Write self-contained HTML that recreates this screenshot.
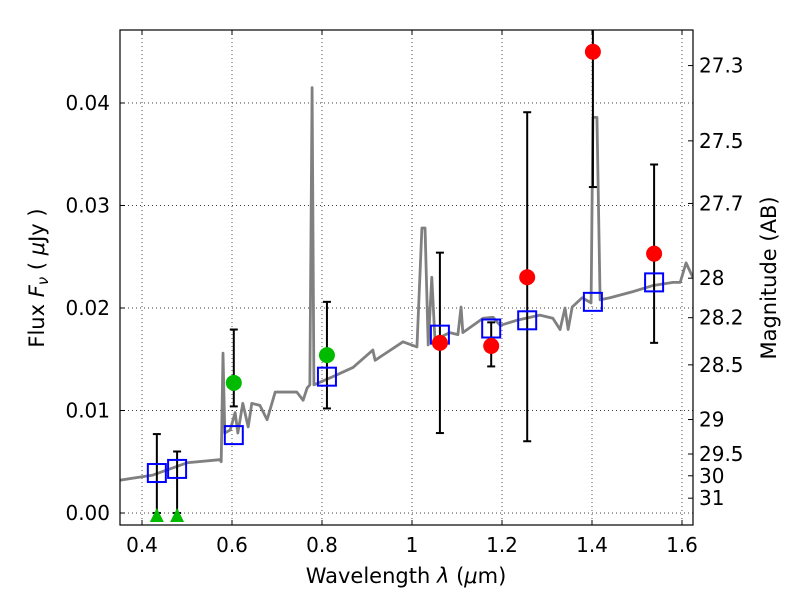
<!DOCTYPE html>
<html><head><meta charset="utf-8"><style>
body{margin:0;background:#fff;}
svg{display:block;font-family:"DejaVu Sans","Liberation Sans",sans-serif;}
</style></head><body>
<svg id="chart" width="800" height="600">
<defs><clipPath id="clip"><rect x="120" y="30" width="573" height="495"/></clipPath></defs>
<rect x="0" y="0" width="800" height="600" fill="#fff"/>
<g id="grid"></g>
<g id="marks" clip-path="url(#clip)"></g>
<rect x="120" y="30" width="573" height="495" fill="none" stroke="#000" stroke-width="1.2"/>
<g id="axes"></g>
<text x="406" y="583" font-size="21" text-anchor="middle">Wavelength  <tspan font-style="italic">λ</tspan> (<tspan font-style="italic">μ</tspan>m)</text>
<text transform="translate(44,278) rotate(-90)" font-size="21" text-anchor="middle">Flux  <tspan font-style="italic">F<tspan font-size="15" dy="4">ν</tspan></tspan><tspan dy="-4">  ( </tspan><tspan font-style="italic">μ</tspan>Jy )</text>
<text transform="translate(776,278) rotate(-90)" font-size="21" text-anchor="middle">Magnitude (AB)</text>
</svg>
<script>
const xTicks=[0.4,0.6,0.8,1.0,1.2,1.4,1.6];
const xTickLabels=["0.4","0.6","0.8","1","1.2","1.4","1.6"];
const yTicks=[0,0.01,0.02,0.03,0.04];
const yTickLabels=["0.00","0.01","0.02","0.03","0.04"];
const magTicks=[27.3,27.5,27.7,28,28.2,28.5,29,29.5,30,31];
const magTickLabels=["27.3","27.5","27.7","28","28.2","28.5","29","29.5","30","31"];
const specLam=[0.351,0.424,0.500,0.573,0.576,0.580,0.584,0.596,0.607,0.613,0.624,0.636,0.644,0.662,0.678,0.696,0.744,0.758,0.767,0.773,0.778,0.782,0.824,0.869,0.913,0.918,0.980,1.011,1.022,1.029,1.036,1.044,1.051,1.084,1.102,1.109,1.113,1.158,1.180,1.196,1.233,1.284,1.313,1.329,1.340,1.347,1.356,1.378,1.398,1.402,1.411,1.418,1.440,1.491,1.536,1.580,1.596,1.609,1.624];
const specFlux=[0.0032,0.0037,0.0049,0.0052,0.0050,0.0156,0.0078,0.0081,0.0098,0.0078,0.0107,0.0084,0.0107,0.0105,0.0091,0.0118,0.0118,0.0110,0.0122,0.0125,0.0415,0.0125,0.0133,0.0142,0.0159,0.0149,0.0167,0.0162,0.0278,0.0278,0.0164,0.0230,0.0169,0.0176,0.0174,0.0201,0.0176,0.0190,0.0191,0.0183,0.0188,0.0193,0.0190,0.0179,0.0200,0.0179,0.0201,0.0210,0.0205,0.0386,0.0386,0.0208,0.0210,0.0216,0.0222,0.0225,0.0225,0.0244,0.0230];
const modelLam=[0.433,0.478,0.604,0.811,1.062,1.176,1.256,1.402,1.538];
const modelFlux=[0.0039,0.0043,0.0076,0.0133,0.0174,0.0180,0.0188,0.0206,0.0225];
const obsLam=[0.433,0.478,0.604,0.811,1.062,1.176,1.256,1.402,1.538];
const obsFlux=[0,0,0.0127,0.0154,0.0166,0.0163,0.0230,0.0450,0.0253];
const obsLow=[0,0,0.0104,0.0102,0.0078,0.0143,0.0070,0.0318,0.0166];
const obsHigh=[0.0077,0.0060,0.0179,0.0206,0.0254,0.0186,0.0391,0.0600,0.0340];
const obsKind=["tri","tri","green","green","red","red","red","red","red"];

const NS="http://www.w3.org/2000/svg";
const X=l=>142+(l-0.4)*450;
const Y=f=>513-f*10250;
const magToFlux=m=>Math.pow(10,(23.9-m)/2.5);
function mk(tag,attrs,parent){const e=document.createElementNS(NS,tag);for(const k in attrs)e.setAttribute(k,attrs[k]);parent.appendChild(e);return e;}
const grid=document.getElementById('grid'),marks=document.getElementById('marks'),axes=document.getElementById('axes');

xTicks.forEach((t,i)=>{const x=X(t);
 const g=mk('line',{x1:x,x2:x,y1:30,y2:525,stroke:'#000','stroke-width':0.7,'stroke-dasharray':'1,3'},grid);
 
 
 mk('line',{x1:x,x2:x,y1:525,y2:520,stroke:'#000'},axes);
 mk('line',{x1:x,x2:x,y1:30,y2:35,stroke:'#000'},axes);
 const tx=mk('text',{x:x,y:552,'font-size':20,'text-anchor':'middle'},axes);tx.textContent=xTickLabels[i];
 
 
});
yTicks.forEach((t,i)=>{const y=Y(t);
 const g=mk('line',{x1:120,x2:693,y1:y,y2:y,stroke:'#000','stroke-width':0.7,'stroke-dasharray':'1,3'},grid);
 
 
 mk('line',{x1:120,x2:125,y1:y,y2:y,stroke:'#000'},axes);
 const tx=mk('text',{x:110,y:y+7,'font-size':20,'text-anchor':'end'},axes);tx.textContent=yTickLabels[i];
 
 
});
magTicks.forEach((m,i)=>{const y=Y(magToFlux(m));
 mk('line',{x1:688,x2:693,y1:y,y2:y,stroke:'#000'},axes);
 const tx=mk('text',{x:699,y:y+7,'font-size':20},axes);tx.textContent=magTickLabels[i];
 
 
});

const pl=mk('polyline',{points:specLam.map((l,i)=>X(l)+','+Y(specFlux[i])).join(' '),fill:'none',stroke:'#808080','stroke-width':2.8,'stroke-linejoin':'round'},marks);



obsLam.forEach((l,i)=>{const x=X(l),y1=Y(obsLow[i]),y2=Y(obsHigh[i]);
 const e=mk('g',{},marks);
 
 
 mk('line',{x1:x,x2:x,y1:y1,y2:y2,stroke:'#000','stroke-width':2},e);
 mk('line',{x1:x-4,x2:x+4,y1:y1,y2:y1,stroke:'#000','stroke-width':2},e);
 mk('line',{x1:x-4,x2:x+4,y1:y2,y2:y2,stroke:'#000','stroke-width':2},e);
});
modelLam.forEach((l,i)=>{const x=X(l),y=Y(modelFlux[i]);
 const r=mk('rect',{x:x-9,y:y-9,width:18,height:18,fill:'none',stroke:'#0000ff','stroke-width':2},marks);
 
 
});
obsLam.forEach((l,i)=>{const x=X(l),y=Y(obsFlux[i]);let e;
 if(obsKind[i]==='tri'){e=mk('polygon',{points:`${x-7},${y+9} ${x+7},${y+9} ${x},${y-5}`,fill:'#00bb00'},marks);}
 else e=mk('circle',{cx:x,cy:y,r:8,fill:obsKind[i]==='green'?'#00bb00':'#ff0000'},marks);
 
 
});
</script>
</body></html>
